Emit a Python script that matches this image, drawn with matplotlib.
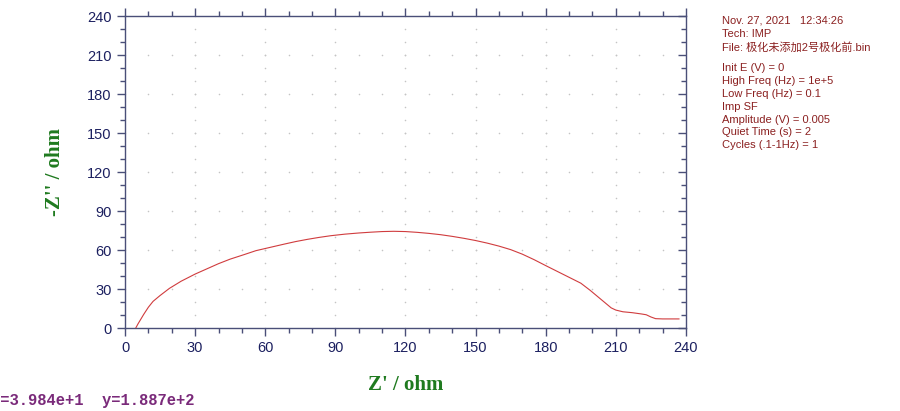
import matplotlib
matplotlib.use('Agg')
import matplotlib.pyplot as plt
import numpy as np

# impedance curve (Z' , -Z'')
z_real = [4.6, 5.5, 6.5, 8, 10, 12, 15, 19, 24, 30, 35, 40, 45, 51, 56, 62, 68,
          73, 78, 83, 88, 94, 100, 105, 110, 115, 120, 125, 130, 135, 140, 145,
          150, 155, 160, 165, 170, 175, 180, 185, 190, 195, 199, 203, 206, 208,
          210, 213, 217, 221, 223, 225, 227, 230, 237]
z_imag = [0, 3, 6, 10.5, 16, 20.5, 25, 30.5, 36, 41.5, 45.5, 49.5, 53, 56.5,
          59.5, 62, 64.5, 66.5, 68.2, 69.7, 71, 72.2, 73.1, 73.7, 74.2, 74.4,
          74.2, 73.6, 72.8, 71.8, 70.5, 69, 67.3, 65.3, 63, 60.3, 56.8, 52.6,
          48, 43.5, 39, 34.5, 29, 23, 18.5, 15.5, 13.8, 12.5, 11.8, 10.8, 10.2,
          8.5, 7.2, 7, 7]

x_major = [0, 30, 60, 90, 120, 150, 180, 210, 240]
y_major = [0, 30, 60, 90, 120, 150, 180, 210, 240]
minor_step = 10

info_head = [
    "Nov. 27, 2021   12:34:26",
    "Tech: IMP",
    "File: 极化未添加2号极化前.bin",
]
info_params = [
    "Init E (V) = 0",
    "High Freq (Hz) = 1e+5",
    "Low Freq (Hz) = 0.1",
    "Imp SF",
    "Amplitude (V) = 0.005",
    "Quiet Time (s) = 2",
    "Cycles (.1-1Hz) = 1",
]
cursor_text = "x=3.984e+1  y=1.887e+2"

axis_col = '#4a4f78'
label_col = '#1c2060'

fig = plt.figure(figsize=(9, 4.11), dpi=100)
ax = fig.add_axes([0.1389, 0.2019, 0.6233, 0.7591])

# dotted grid: dots along major lines every minor step
minors = np.arange(0, 241, minor_step)
gx, gy = [], []
for xm in x_major[1:-1]:
    for ym in minors:
        gx.append(xm); gy.append(ym)
for ym in y_major[1:-1]:
    for xm in minors:
        gx.append(xm); gy.append(ym)
ax.scatter(gx, gy, s=1.3, color='#c4c4c4', zorder=1, linewidths=0)

ax.plot(z_real, z_imag, color='#d03c3e', lw=0.8, zorder=3)

ax.set_xlim(0, 240)
ax.set_ylim(0, 240)
ax.set_xticks(x_major)
ax.set_yticks(y_major)
ax.set_xticks(minors, minor=True)
ax.set_yticks(minors, minor=True)

for s in ax.spines.values():
    s.set_color(axis_col)
    s.set_linewidth(1.0)

ax.tick_params(axis='both', which='major', direction='out', length=6, width=1,
               color=axis_col, labelcolor=label_col, labelsize=10.5)
ax.tick_params(axis='both', which='minor', direction='out', length=3.5, width=1,
               color=axis_col)
ax.tick_params(axis='x', which='both', top=True)
ax.tick_params(axis='y', which='both', right=True)
for lab in ax.get_xticklabels() + ax.get_yticklabels():
    lab.set_family('Liberation Sans')

# right side ticks pointing inward
for t in ax.yaxis.get_major_ticks() + ax.yaxis.get_minor_ticks():
    t.tick2line.set_marker(matplotlib.lines.TICKLEFT)

ax.set_xlabel("Z' / ohm", color='#1f7a1f', fontsize=15, fontweight='bold',
              family='Liberation Serif', labelpad=14)
ax.set_ylabel("-Z'' / ohm", color='#1f7a1f', fontsize=15, fontweight='bold',
              family='Liberation Serif', labelpad=16)

txt_font = ['Liberation Sans', 'Noto Sans CJK SC']
line_h = 0.0316
y0 = 0.962
for i, line in enumerate(info_head):
    fig.text(0.802, y0 - i * line_h, line, fontsize=8, color='#8b2020',
             family=txt_font, va='top')
y1 = y0 - 2 * line_h - 0.051
for i, line in enumerate(info_params):
    fig.text(0.802, y1 - i * line_h, line, fontsize=8, color='#8b2020',
             family=txt_font, va='top')

fig.text(-0.0103, 0.0255, cursor_text, fontsize=11.2, color='#7a2a7a',
         family='Liberation Mono', fontweight='bold', va='center')

fig.savefig('out.png', dpi=100)
